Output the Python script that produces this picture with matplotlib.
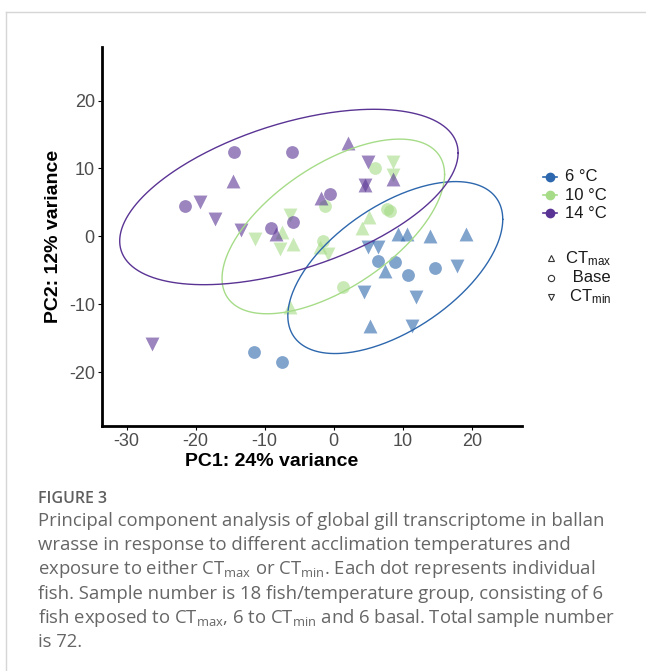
import numpy as np
import matplotlib.pyplot as plt
from matplotlib.lines import Line2D

plt.rcParams['font.family'] = ['Liberation Sans', 'DejaVu Sans']
plt.rcParams['mathtext.default'] = 'regular'
plt.rcParams['axes.unicode_minus'] = False

# groups
temps = ['6 °C', '10 °C', '14 °C']
colors = ['#2d67ad', '#a6dc88', '#5a3494']
treatments = ['CTmax', 'Base', 'CTmin']
treat_labels = [r'$\mathregular{CT_{max}}$', ' Base', r'$\mathregular{CT_{min}}$']
treat_markers = ['^', 'o', 'v']

# PCA scores
# 6 °C
pc1_6_ctmax = [9.3, 10.6, 13.9, 19.1, 7.4, 5.2]
pc2_6_ctmax = [0.3, 0.3, 0.0, 0.3, -5.1, -13.2]
pc1_6_base = [-11.6, -7.5, 6.4, 8.8, 10.7, 14.6]
pc2_6_base = [-17.1, -18.5, -3.7, -3.8, -5.7, -4.7]
pc1_6_ctmin = [4.9, 6.4, 17.9, 4.3, 11.9, 11.3]
pc2_6_ctmin = [-1.5, -1.6, -4.4, -8.2, -9.0, -13.2]
# 10 °C
pc1_10_ctmax = [-5.9, -6.4, -2.0, 4.1, 5.1, -7.5]
pc2_10_ctmax = [-1.2, -10.4, -1.6, 1.3, 2.9, 0.7]
pc1_10_base = [-1.3, -1.6, 1.4, 5.9, 7.7, 8.1]
pc2_10_base = [4.4, -0.7, -7.4, 10.1, 4.1, 3.7]
pc1_10_ctmin = [-11.4, -7.8, -6.4, -0.9, 8.5, 8.5]
pc2_10_ctmin = [-0.4, -1.9, 3.2, -2.6, 11.0, 9.1]
# 14 °C
pc1_14_ctmax = [-14.6, 2.0, -8.4, -1.9, 4.5, 8.5]
pc2_14_ctmax = [8.1, 13.8, 0.3, 5.6, 7.6, 8.5]
pc1_14_base = [-14.5, -6.1, -21.6, -9.1, -5.9, -0.6]
pc2_14_base = [12.4, 12.4, 4.4, 1.2, 2.1, 6.2]
pc1_14_ctmin = [-26.3, -19.4, -17.2, -13.5, 4.9, 4.5]
pc2_14_ctmin = [-15.9, 5.1, 2.6, 1.0, 10.9, 7.6]

pc1 = [[pc1_6_ctmax, pc1_6_base, pc1_6_ctmin],
       [pc1_10_ctmax, pc1_10_base, pc1_10_ctmin],
       [pc1_14_ctmax, pc1_14_base, pc1_14_ctmin]]
pc2 = [[pc2_6_ctmax, pc2_6_base, pc2_6_ctmin],
       [pc2_10_ctmax, pc2_10_base, pc2_10_ctmin],
       [pc2_14_ctmax, pc2_14_base, pc2_14_ctmin]]

# 95% ellipses (center + covariance terms)
ell_cx = [8.9, -0.07, -6.5]
ell_cy = [-4.6, 1.46, 5.8]
ell_vx = [242.0, 259.5, 600.0]
ell_cxy = [110.5, 123.4, 159.0]
ell_vy = [160.5, 165.6, 167.0]

caption = [
    "Principal component analysis of global gill transcriptome in ballan",
    "wrasse in response to different acclimation temperatures and",
    r"exposure to either $\mathregular{CT_{max}}$ or $\mathregular{CT_{min}}$. Each dot represents individual",
    "fish. Sample number is 18 fish/temperature group, consisting of 6",
    r"fish exposed to $\mathregular{CT_{max}}$, 6 to $\mathregular{CT_{min}}$ and 6 basal. Total sample number",
    "is 72.",
]

W, H = 646, 671
fig = plt.figure(figsize=(W / 100, H / 100), dpi=100)
ax = fig.add_axes([101.7 / W, 1 - 425.7 / H, 420 / W, 378.7 / H])

for i in range(3):
    for j in range(3):
        s = 100 if treat_markers[j] != 'o' else 85
        ax.scatter(pc1[i][j], pc2[i][j], s=s, marker=treat_markers[j],
                   color=colors[i], alpha=0.6, linewidths=0, zorder=2)

t = np.linspace(0, 2 * np.pi, 300)
for i in range(3):
    S = np.array([[ell_vx[i], ell_cxy[i]], [ell_cxy[i], ell_vy[i]]])
    L = np.linalg.cholesky(S)
    e = L @ np.vstack([np.cos(t), np.sin(t)])
    ax.plot(ell_cx[i] + e[0], ell_cy[i] + e[1], color=colors[i], lw=1.0, zorder=3)

ax.set_xlim(-33.6, 27.2)
ax.set_ylim(-27.9, 27.9)
ax.set_xticks([-30, -20, -10, 0, 10, 20])
ax.set_yticks([-20, -10, 0, 10, 20])
for side in ['top', 'right']:
    ax.spines[side].set_visible(False)
for side in ['left', 'bottom']:
    ax.spines[side].set_linewidth(2.0)
ax.tick_params(length=3, width=0.8, pad=2, labelsize=13, labelcolor='#4d4d4d')

ax.set_xlabel('PC1: 24% variance', fontsize=14, fontweight='bold')
ax.set_ylabel('PC2: 12% variance', fontsize=14, fontweight='bold')
ax.xaxis.set_label_coords(0.404, -0.095)
ax.xaxis.label.set_va('center')
ax.yaxis.set_label_coords(-0.115, 0.5)
ax.yaxis.label.set_va('center')

# colour legend
for i in range(3):
    y = 1 - (176.5 + 18.5 * i) / H
    fig.add_artist(Line2D([542.7 / W, 557.3 / W], [y, y], transform=fig.transFigure,
                          color=colors[i], lw=1.2))
    fig.add_artist(Line2D([550 / W], [y], transform=fig.transFigure,
                          color=colors[i], marker='o', markersize=6, lw=0))
    fig.text(565 / W, y, temps[i], fontsize=12, va='center', color='#1a1a1a')

# shape legend
for j in range(3):
    y = 1 - (258.3 + 19.2 * j) / H
    fig.add_artist(Line2D([550.7 / W], [y], transform=fig.transFigure,
                          marker=treat_markers[j], markersize=4.5, lw=0,
                          markerfacecolor='none', markeredgecolor='#333333',
                          markeredgewidth=0.8))
    fig.text(611 / W, y, treat_labels[j], fontsize=12, va='center', ha='right',
             color='#1a1a1a')

# card border
border = '#d6d6d6'
fig.add_artist(Line2D([6 / W, 1], [1 - 12 / H, 1 - 12 / H], transform=fig.transFigure,
                      color=border, lw=1))
fig.add_artist(Line2D([6 / W, 6 / W], [0, 1 - 12 / H], transform=fig.transFigure,
                      color=border, lw=1))

# caption
fig.text(38 / W, 1 - 503 / H, 'FIGURE 3', fontsize=11.5, family='Open Sans',
         fontweight='semibold', color='#5f5f5f', va='baseline')
for k, line in enumerate(caption):
    fig.text(38 / W, 1 - (526 + 24.2 * k) / H, line, fontsize=13.3, family='Open Sans',
             color='#666666', va='baseline')

fig.savefig('out.png', dpi=100)
